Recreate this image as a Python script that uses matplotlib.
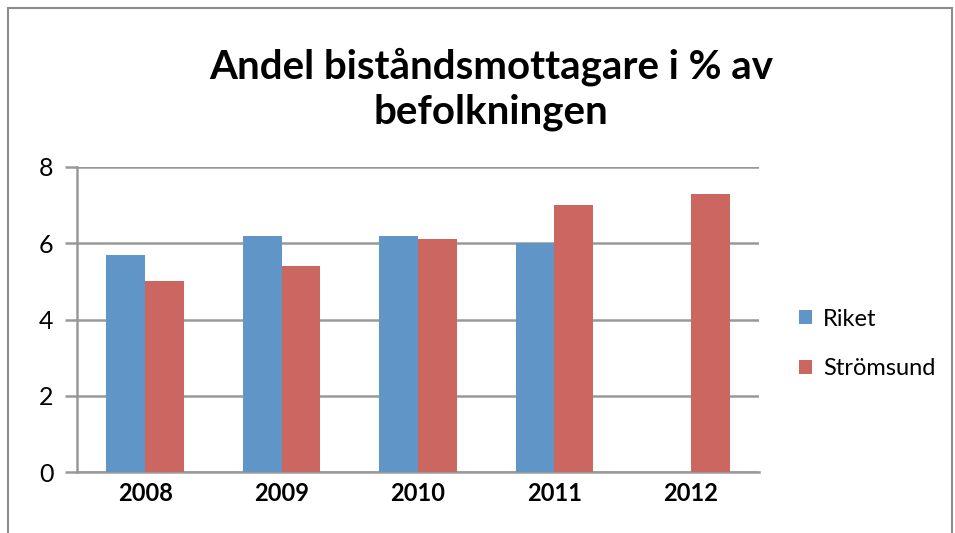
import numpy as np
import matplotlib.pyplot as plt
from matplotlib.patches import Rectangle

years = ["2008", "2009", "2010", "2011", "2012"]
riket = [5.7, 6.2, 6.2, 6.0, np.nan]
stromsund = [5.0, 5.4, 6.1, 7.0, 7.3]

blue = "#6095c8"
red = "#cc6660"
grid = "#999999"

plt.rcParams["font.family"] = ["Lato", "DejaVu Sans"]

fig = plt.figure(figsize=(9.55, 5.33), dpi=100)
ax = fig.add_axes([77 / 955, 1 - 472 / 533, 682 / 955, 305 / 533])

# outer chart border
fig.patches.append(Rectangle((8 / 955, -0.1), 944 / 955, 1.1 - 8 / 533,
                             transform=fig.transFigure, fill=False,
                             edgecolor="#8c8c8c", linewidth=1.5))

x = np.arange(len(years))
w = 0.285
ax.bar(x - w / 2, riket, w, color=blue, label="Riket", zorder=3)
ax.bar(x + w / 2, stromsund, w, color=red, label="Strömsund", zorder=3)

ax.set_xlim(-0.5, len(years) - 0.5)
ax.set_ylim(0, 8)
ax.set_yticks([0, 2, 4, 6, 8])
ax.yaxis.grid(True, color=grid, linewidth=1.8, zorder=0)
ax.set_xticks(x)
ax.set_xticklabels(years, fontsize=17, fontweight="bold")
ax.tick_params(axis="y", labelsize=18, length=9, width=1.8, color=grid, pad=8)
ax.tick_params(axis="x", length=0, pad=7)

for s in ["top", "right"]:
    ax.spines[s].set_visible(False)
ax.spines["left"].set_color(grid)
ax.spines["left"].set_linewidth(1.8)
ax.spines["bottom"].set_color(grid)
ax.spines["bottom"].set_linewidth(1.8)

fig.text(491 / 955, 1 - 89 / 533, "Andel biståndsmottagare i % av\nbefolkningen",
         ha="center", va="center", fontsize=29, fontweight="bold",
         linespacing=1.25)

ax.legend(loc="center left", bbox_to_anchor=(1.028, 0.42), frameon=False,
          fontsize=17, handlelength=0.55, handleheight=0.55,
          labelspacing=1.2, handletextpad=0.45)

fig.savefig("out.png", dpi=100)
